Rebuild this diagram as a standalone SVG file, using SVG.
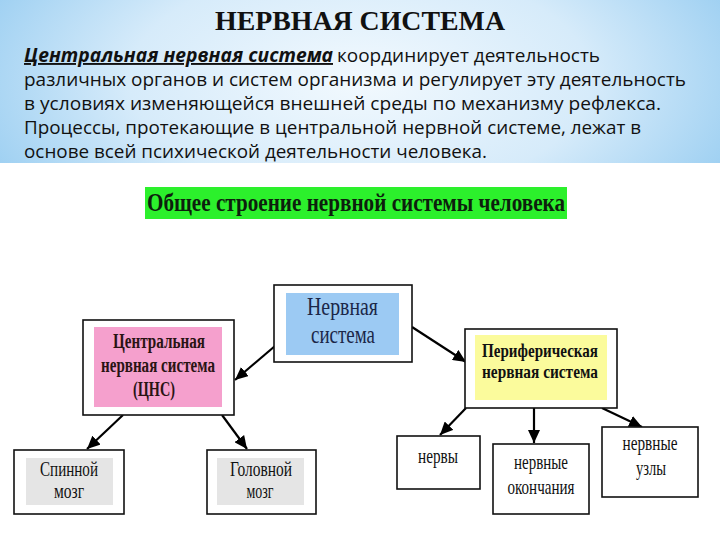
<svg xmlns="http://www.w3.org/2000/svg" width="720" height="540" viewBox="0 0 720 540">
<defs>
<radialGradient id="sky" cx="360" cy="80" r="420" gradientUnits="userSpaceOnUse" gradientTransform="translate(360 80) scale(1 0.5) translate(-360 -80)">
<stop offset="0" stop-color="#f2f9fe"/>
<stop offset="0.55" stop-color="#d6ebfa"/>
<stop offset="1" stop-color="#98cdf1"/>
</radialGradient>
<marker id="ah" markerUnits="userSpaceOnUse" markerWidth="14" markerHeight="12" refX="13" refY="6" orient="auto">
<path d="M0,0 L13,6 L0,12 Z" fill="#000"/>
</marker>
<style>
.para{font-family:"Open Sans","Noto Sans",sans-serif;font-size:19px;fill:#111}
.box{fill:#fff;stroke:#111;stroke-width:1.6}
.lbl{font-family:"Liberation Serif","Times New Roman",serif;text-anchor:middle}
.conn{stroke:#000;stroke-width:2.2;fill:none;marker-end:url(#ah)}
</style>
</defs>
<rect x="0" y="0" width="720" height="540" fill="#fff"/>
<rect x="0" y="0" width="720" height="163" fill="url(#sky)"/>
<text x="360" y="30" text-anchor="middle" font-family="Liberation Serif, serif" font-weight="bold" font-size="28" textLength="290" lengthAdjust="spacingAndGlyphs" fill="#111">НЕРВНАЯ СИСТЕМА</text>
<text class="para" x="24" y="62" font-weight="bold" font-style="italic" text-decoration="underline" textLength="309" lengthAdjust="spacingAndGlyphs">Центральная нервная система</text>
<text class="para" x="337" y="62" textLength="263" lengthAdjust="spacingAndGlyphs">координирует деятельность</text>
<text class="para" x="24" y="86" textLength="662" lengthAdjust="spacingAndGlyphs">различных органов и систем организма и регулирует эту деятельность</text>
<text class="para" x="24" y="110" textLength="637" lengthAdjust="spacingAndGlyphs">в условиях изменяющейся внешней среды по механизму рефлекса.</text>
<text class="para" x="24" y="134" textLength="617" lengthAdjust="spacingAndGlyphs">Процессы, протекающие в центральной нервной системе, лежат в</text>
<text class="para" x="24" y="158" textLength="463" lengthAdjust="spacingAndGlyphs">основе всей психической деятельности человека.</text>
<g id="banner">
<rect x="145" y="187" width="422" height="32" fill="#2cf02c"/>
<text class="lbl" x="356" y="211" font-size="25" font-weight="bold" fill="#0d1f0d" textLength="418" lengthAdjust="spacingAndGlyphs">Общее строение нервной системы человека</text>
</g>
<g id="connectors">
<line class="conn" x1="275" y1="346" x2="235" y2="380"/>
<line class="conn" x1="412" y1="327" x2="466" y2="362"/>
<line class="conn" x1="123" y1="415" x2="87" y2="449"/>
<line class="conn" x1="222" y1="415" x2="247" y2="449"/>
<line class="conn" x1="466" y1="408" x2="440" y2="435"/>
<line class="conn" x1="534" y1="408" x2="534" y2="443"/>
<line class="conn" x1="602" y1="408" x2="642" y2="427"/>
</g>
<g id="nervous-system">
<rect class="box" x="274" y="285" width="138" height="77"/>
<rect x="286" y="293" width="113" height="62" fill="#9ccaf3"/>
<text class="lbl" x="342.5" y="315" font-size="25" fill="#1b2748" textLength="71" lengthAdjust="spacingAndGlyphs">Нервная</text>
<text class="lbl" x="343" y="343" font-size="25" fill="#1b2748" textLength="64" lengthAdjust="spacingAndGlyphs">система</text>
</g>
<g id="cns">
<rect class="box" x="83" y="320" width="151" height="95"/>
<rect x="94" y="327" width="128" height="80" fill="#f5a0cd"/>
<text class="lbl" x="159" y="348" font-size="20" font-weight="bold" fill="#2a1414" textLength="92" lengthAdjust="spacingAndGlyphs">Центральная</text>
<text class="lbl" x="158" y="372" font-size="20" font-weight="bold" fill="#2a1414" textLength="114" lengthAdjust="spacingAndGlyphs">нервная система</text>
<text class="lbl" x="154" y="396" font-size="20" font-weight="bold" fill="#2a1414" textLength="42" lengthAdjust="spacingAndGlyphs">(ЦНС)</text>
</g>
<g id="pns">
<rect class="box" x="465" y="329" width="152" height="79"/>
<rect x="475" y="335" width="132" height="65" fill="#fbfb9c"/>
<text class="lbl" x="540" y="357" font-size="19" font-weight="bold" fill="#111" textLength="116" lengthAdjust="spacingAndGlyphs">Периферическая</text>
<text class="lbl" x="540" y="378" font-size="19" font-weight="bold" fill="#111" textLength="116" lengthAdjust="spacingAndGlyphs">нервная система</text>
</g>
<g id="spinal-cord">
<rect class="box" x="14" y="450" width="110" height="64"/>
<rect x="26" y="458" width="87" height="47" fill="#e5e5e5"/>
<text class="lbl" x="69" y="476" font-size="21" fill="#111" textLength="58" lengthAdjust="spacingAndGlyphs">Спинной</text>
<text class="lbl" x="69" y="498" font-size="21" fill="#111" textLength="30" lengthAdjust="spacingAndGlyphs">мозг</text>
</g>
<g id="brain">
<rect class="box" x="207" y="450" width="109" height="64"/>
<rect x="217" y="458" width="87" height="47" fill="#e5e5e5"/>
<text class="lbl" x="261" y="476" font-size="21" fill="#111" textLength="62" lengthAdjust="spacingAndGlyphs">Головной</text>
<text class="lbl" x="260" y="498" font-size="21" fill="#111" textLength="27" lengthAdjust="spacingAndGlyphs">мозг</text>
</g>
<g id="nerves">
<rect class="box" x="397" y="436" width="83" height="53"/>
<text class="lbl" x="438" y="463" font-size="22" fill="#111" textLength="40" lengthAdjust="spacingAndGlyphs">нервы</text>
</g>
<g id="nerve-endings">
<rect class="box" x="493" y="444" width="96" height="70"/>
<text class="lbl" x="541" y="469" font-size="21" fill="#111" textLength="54" lengthAdjust="spacingAndGlyphs">нервные</text>
<text class="lbl" x="541" y="494" font-size="21" fill="#111" textLength="67" lengthAdjust="spacingAndGlyphs">окончания</text>
</g>
<g id="ganglia">
<rect class="box" x="602" y="427" width="96" height="70"/>
<text class="lbl" x="650" y="450" font-size="21" fill="#111" textLength="55" lengthAdjust="spacingAndGlyphs">нервные</text>
<text class="lbl" x="651" y="475" font-size="21" fill="#111" textLength="30" lengthAdjust="spacingAndGlyphs">узлы</text>
</g>
</svg>
